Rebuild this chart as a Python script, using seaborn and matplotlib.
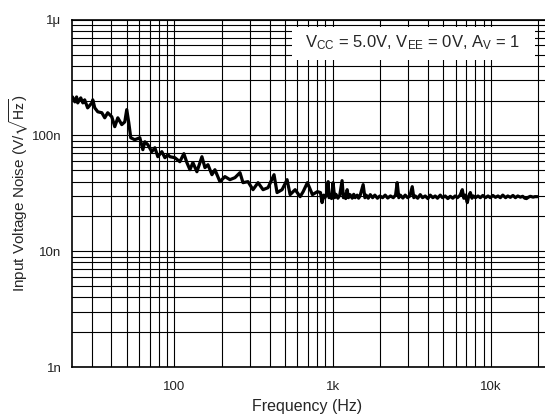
import numpy as np
import pandas as pd
import seaborn as sns
import matplotlib.pyplot as plt
from matplotlib.ticker import LogLocator, FixedLocator, FixedFormatter, NullFormatter
from matplotlib.patches import Rectangle

# frequency (Hz) and input voltage noise (nV/rtHz)
# low band: 1/f region
freq_low = [
    22.7, 23.5, 24.1, 24.5, 25.6, 26.4, 27.1, 28.3, 30.1, 30.5,
    31.4, 32.8, 34.8, 36.3, 37.9, 40.2, 42.0, 43.9, 46.5, 48.6,
    50.0, 51.5, 53.0, 56.2, 60.5, 63.2, 65.1, 68.0, 72.0, 75.3,
    78.6, 83.3, 87.1, 91.0,
]
noise_low = [
    215, 195, 215, 191, 211, 191, 203, 173, 191, 203,
    173, 160, 157, 142, 157, 145, 119, 142, 124, 131,
    167, 129, 95.5, 91.8, 95.5, 75.3, 88.2, 83.1, 72.4, 78.3,
    65.5, 72.4, 64.2, 68.2,
]
# mid band: corner region
freq_mid = [
    93.7, 100.7, 108.3, 114.8, 120.0, 125.4, 130.9, 138.8, 149.3, 156.0,
    163.0, 172.7, 180.4, 194.0, 208.7, 224.5, 241.5, 259.8, 271.4, 291.9,
    314.0, 337.8, 363.4, 390.9, 426.4, 445.6, 479.3, 515.6, 538.9, 579.7,
    623.6, 651.6, 693, 745.5, 801.9, 838.1,
]
noise_mid = [
    65.5, 64.2, 59.3, 69.6, 58.2, 50.6, 58.2, 48.6, 65.5, 52.7,
    55.9, 45.8, 50.6, 39.9, 44.1, 41.5, 43.2, 47.7, 39.1, 39.9,
    34.0, 39.1, 34.0, 35.4, 45.8, 32.1, 34.0, 41.5, 30.8, 34.0,
    29.6, 32.7, 39.1, 30.8, 32.7, 32.1,
]
# high band: white noise floor
freq_high = [
    858, 880, 895, 915, 937, 950, 965, 985, 1007, 1030,
    1050, 1080, 1110, 1148, 1170, 1190, 1210, 1236, 1260, 1290,
    1330, 1360, 1388, 1430, 1460, 1490, 1560, 1600, 1630, 1680,
    1730, 1790, 1850, 1920, 1990, 2070, 2150, 2230, 2320, 2420,
    2500, 2560, 2620, 2680, 2780, 2877, 2980, 3080, 3186, 3260,
    3330, 3450, 3580, 3700, 3850, 4000, 4141, 4300, 4450, 4600,
    4791, 4950, 5150, 5350, 5541, 5750, 5950, 6150, 6400, 6603,
    6750, 6900, 7101, 7250, 7419, 7600, 7760, 8000, 8300, 8583,
    8900, 9250, 9600, 9927, 10300, 10700, 11100, 11484, 11900, 12400,
    12800, 13283, 13800, 14300, 14800, 15370, 15900, 16400, 16800, 17300,
    17783, 18500, 19000, 19700,
]
noise_high = [
    26.3, 30.5, 29.0, 31.0, 39.9, 29.0, 30.5, 28.5, 39.1, 29.0,
    31.0, 28.7, 30.5, 40.7, 29.0, 31.0, 28.5, 34.0, 29.0, 30.8,
    28.7, 31.0, 29.0, 30.5, 28.7, 30.0, 37.6, 29.0, 30.5, 28.7,
    30.8, 29.0, 30.5, 28.7, 30.0, 29.0, 30.5, 28.8, 30.0, 29.0,
    30.5, 39.1, 29.0, 30.5, 28.8, 30.5, 29.0, 30.0, 36.1, 29.0,
    30.0, 28.7, 30.8, 29.0, 30.0, 28.5, 30.5, 29.0, 30.0, 28.7,
    30.5, 29.0, 30.0, 28.5, 29.8, 28.7, 30.0, 29.0, 30.5, 34.0,
    28.7, 30.5, 26.3, 30.0, 32.1, 28.7, 30.0, 29.0, 30.0, 29.0,
    30.3, 29.0, 30.0, 29.0, 30.3, 29.2, 30.0, 29.0, 30.5, 29.0,
    30.0, 29.2, 30.3, 29.0, 30.0, 29.3, 29.8, 28.7, 28.5, 29.3,
    29.8, 29.3, 29.6, 29.6,
]

x_ticks = [100, 1000, 10000]
x_labels = ["100", "1k", "10k"]
y_ticks = [1e-9, 1e-8, 1e-7, 1e-6]
y_labels = ["1n", "10n", "100n", "1\u03bc"]

df = pd.DataFrame({
    "f": freq_low + freq_mid + freq_high,
    "v": np.array(noise_low + noise_mid + noise_high) * 1e-9,
})

sns.set_style("white")
plt.rcParams["font.family"] = ["Liberation Sans", "DejaVu Sans"]
plt.rcParams["mathtext.fontset"] = "stixsans"

fig = plt.figure(figsize=(5.45, 4.18), dpi=100)
ax = fig.add_axes([0.133, 0.122, 0.867, 0.831])

sns.lineplot(data=df, x="f", y="v", ax=ax, color="black", linewidth=2.3,
             estimator=None, sort=False, zorder=5)

ax.set_xscale("log")
ax.set_yscale("log")
ax.set_xlim(22.7, 22000)
ax.set_ylim(1e-9, 1e-6)

ax.xaxis.set_major_locator(FixedLocator(x_ticks))
ax.xaxis.set_major_formatter(FixedFormatter(x_labels))
ax.xaxis.set_minor_locator(LogLocator(base=10, subs=np.arange(1, 10), numticks=20))
ax.xaxis.set_minor_formatter(NullFormatter())
ax.yaxis.set_major_locator(FixedLocator(y_ticks))
ax.yaxis.set_major_formatter(FixedFormatter(y_labels))
ax.yaxis.set_minor_locator(LogLocator(base=10, subs=np.arange(1, 10), numticks=20))
ax.yaxis.set_minor_formatter(NullFormatter())

ax.grid(which="both", color="black", linewidth=0.8)
ax.tick_params(which="both", length=0, labelsize=9.5, colors="#222222")
ax.tick_params(axis="x", pad=10)
ax.tick_params(axis="y", pad=8)

for side in ["left", "top", "bottom"]:
    ax.spines[side].set_color("black")
    ax.spines[side].set_linewidth(1.2)
ax.spines["right"].set_visible(False)

ax.set_xlabel("Frequency (Hz)", fontsize=11.5)
ax.xaxis.set_label_coords(0.497, -0.093)
ax.set_ylabel(r"Input Voltage Noise (V/$\sqrt{\mathrm{Hz}}$)", fontsize=11)
ax.yaxis.set_label_coords(-0.088, 0.5)

ax.add_patch(Rectangle((0.4646, 0.884), 0.514, 0.095, transform=ax.transAxes,
                       facecolor="white", edgecolor="none", zorder=6))
ax.text(0.7206, 0.933,
        r"V$_\mathregular{CC}$ = 5.0V, V$_\mathregular{EE}$ = 0V, A$_\mathregular{V}$ = 1",
        transform=ax.transAxes, ha="center", va="center", fontsize=12, zorder=7)

fig.savefig("out.png", dpi=100)
plt.close()
